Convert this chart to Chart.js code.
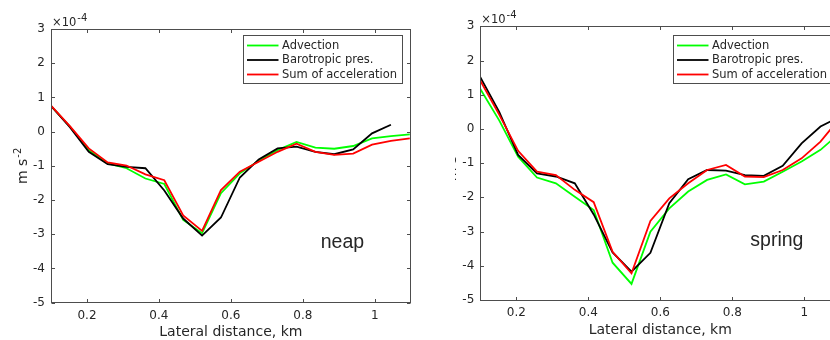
<!DOCTYPE html>
<html>
<head>
<meta charset="utf-8">
<script src="https://cdn.jsdelivr.net/npm/chart.js@4.4.1/dist/chart.umd.min.js"></script>
<style>
  html, body { margin: 0; padding: 0; background: #fff; width: 830px; height: 340px; overflow: hidden; }
  #left { position: absolute; left: 0; top: 0; width: 455px; height: 340px; background: #fff; z-index: 2; }
  #right { position: absolute; left: 420px; top: 0; width: 440px; height: 340px; z-index: 1; }
</style>
</head>
<body>
<div id="left"><canvas id="neapChart" width="455" height="340"></canvas></div>
<div id="right"><canvas id="springChart" width="440" height="340"></canvas></div>
<script>
// lateral distance (km) of the sampled stations
const distance = [0.1, 0.1525, 0.205, 0.2575, 0.31, 0.3625, 0.415, 0.4675, 0.52, 0.5725,
                  0.625, 0.6775, 0.73, 0.7825, 0.835, 0.8875, 0.94, 0.9925, 1.045, 1.0975];

// accelerations, units of 1e-4 m s^-2
const neapAdvection  = [0.75, 0.15, -0.54, -0.93, -1.07, -1.37, -1.53, -2.58, -2.97, -1.80,
                        -1.22, -0.85, -0.54, -0.30, -0.47, -0.50, -0.42, -0.20, -0.13, -0.08];
const neapBarotropic = [0.75, 0.13, -0.59, -0.95, -1.03, -1.07, -1.72, -2.54, -3.04, -2.51,
                        -1.34, -0.81, -0.49, -0.44, -0.59, -0.66, -0.52, -0.05, 0.20];
const neapSum        = [0.76, 0.16, -0.49, -0.90, -0.99, -1.25, -1.42, -2.45, -2.90, -1.71,
                        -1.17, -0.88, -0.59, -0.35, -0.59, -0.68, -0.64, -0.38, -0.27, -0.20];

const springAdvection  = [1.17, 0.25, -0.81, -1.42, -1.59, -1.98, -2.37, -3.91, -4.53, -3.00,
                          -2.32, -1.83, -1.49, -1.33, -1.62, -1.54, -1.25, -0.95, -0.61, -0.13];
const springBarotropic = [1.51, 0.50, -0.76, -1.30, -1.39, -1.59, -2.50, -3.61, -4.17, -3.62,
                          -2.17, -1.47, -1.20, -1.22, -1.35, -1.37, -1.08, -0.42, 0.07, 0.35];
const springSum        = [1.41, 0.42, -0.64, -1.25, -1.35, -1.78, -2.14, -3.59, -4.22, -2.69,
                          -2.03, -1.59, -1.20, -1.05, -1.39, -1.41, -1.20, -0.86, -0.37, 0.30];

const seriesLabels = ['Advection', 'Barotropic pres.', 'Sum of acceleration'];
const seriesColors = ['#00ff00', '#000000', '#ff0000'];
const xTickValues = [0.2, 0.4, 0.6, 0.8, 1.0];
const xTitle = 'Lateral distance, km';

const axisColor = '#4d4d4d';
const textColor = '#262626';

const matlabStyle = {
  id: 'matlabStyle',
  afterDatasetsDraw(chart, args, o) {
    const { ctx, chartArea: a, scales: { x, y } } = chart;
    ctx.save();

    // panel label, placed in data coordinates
    ctx.font = '19.5px "Liberation Sans"';
    ctx.fillStyle = textColor;
    ctx.textAlign = 'left';
    ctx.textBaseline = 'middle';
    ctx.fillText(o.panel, x.getPixelForValue(o.panelAt[0]), y.getPixelForValue(o.panelAt[1]));

    // axes box with inward ticks
    const L = Math.round(a.left) + 0.5, R = Math.floor(a.right) + 0.5;
    const T = Math.round(a.top) + 0.5, B = Math.floor(a.bottom) + 0.5;
    ctx.strokeStyle = axisColor;
    ctx.lineWidth = 1;
    ctx.strokeRect(L, T, R - L, B - T);
    ctx.beginPath();
    x.ticks.forEach(t => {
      const px = Math.round(x.getPixelForValue(t.value)) + 0.5;
      ctx.moveTo(px, B); ctx.lineTo(px, B - 3.5);
      ctx.moveTo(px, T); ctx.lineTo(px, T + 3.5);
    });
    y.ticks.forEach(t => {
      const py = Math.round(y.getPixelForValue(t.value)) + 0.5;
      ctx.moveTo(L, py); ctx.lineTo(L + 3.5, py);
      ctx.moveTo(R, py); ctx.lineTo(R - 3.5, py);
    });
    ctx.stroke();

    // legend box (top right, inside axes)
    ctx.font = '11.5px "DejaVu Sans"';
    const sets = chart.data.datasets;
    const tw = Math.max(...sets.map(d => ctx.measureText(d.label).width));
    const w = Math.round(39 + tw + 5), h = 48;
    const bx = Math.round(a.right - o.legendInset[0] - w), by = Math.round(a.top + o.legendInset[1]);
    ctx.fillStyle = '#fff';
    ctx.fillRect(bx, by, w, h);
    ctx.strokeStyle = axisColor;
    ctx.strokeRect(bx + 0.5, by + 0.5, w, h);
    sets.forEach((d, i) => {
      const ry = by + 10.5 + i * 14.5;
      ctx.strokeStyle = d.borderColor;
      ctx.lineWidth = 1.8;
      ctx.beginPath();
      ctx.moveTo(bx + 4, ry); ctx.lineTo(bx + 35.5, ry);
      ctx.stroke();
      ctx.fillStyle = textColor;
      ctx.textBaseline = 'middle';
      ctx.fillText(d.label, bx + 39, ry + 0.5);
    });
    ctx.restore();
  },
  afterDraw(chart, args, o) {
    const { ctx, chartArea: a } = chart;
    ctx.save();
    ctx.fillStyle = textColor;
    ctx.textBaseline = 'alphabetic';

    // exponent above the y axis
    ctx.font = '11.5px "DejaVu Sans"';
    ctx.textAlign = 'left';
    const ex = a.left + 1, ey = a.top - 3.5;
    ctx.fillText('\u00d710', ex, ey);
    const ew = ctx.measureText('\u00d710').width;
    ctx.font = '10px "DejaVu Sans"';
    ctx.fillText('-4', ex + ew + 1, ey - 5);

    // x axis title
    ctx.font = '14px "DejaVu Sans"';
    ctx.textAlign = 'center';
    ctx.textBaseline = 'middle';
    ctx.fillText(xTitle, (a.left + a.right) / 2, a.bottom + 30);

    // y axis title, rotated
    ctx.translate(a.left - 24.5, (a.top + a.bottom) / 2);
    ctx.rotate(-Math.PI / 2);
    ctx.textAlign = 'left';
    ctx.textBaseline = 'alphabetic';
    ctx.font = '14px "DejaVu Sans"';
    const w1 = ctx.measureText('m s').width;
    ctx.font = '10px "DejaVu Sans"';
    const w2 = ctx.measureText('-2').width;
    const sx = -(w1 + w2 + 1) / 2;
    ctx.font = '14px "DejaVu Sans"';
    ctx.fillText('m s', sx, 0);
    ctx.font = '10px "DejaVu Sans"';
    ctx.fillText('-2', sx + w1 + 1, -6);
    ctx.restore();
  }
};

function makeChart(canvasId, series, panel, box) {
  const datasets = series.map((vals, i) => ({
    label: seriesLabels[i],
    data: vals.map((v, k) => ({ x: distance[k], y: v })),
    borderColor: seriesColors[i],
    backgroundColor: seriesColors[i],
    borderWidth: 1.8,
    pointRadius: 0,
    tension: 0,
    fill: false,
    order: 2 - i,
  }));

  return new Chart(document.getElementById(canvasId), {
    type: 'line',
    data: { datasets },
    plugins: [matlabStyle],
    options: {
      responsive: false,
      animation: false,
      devicePixelRatio: 1,
      layout: { padding: { top: box.top, right: box.right, left: 0, bottom: 0 } },
      plugins: {
        legend: { display: false },
        tooltip: { enabled: false },
        matlabStyle: { panel, panelAt: [0.85, -3.25], legendInset: box.legendInset },
      },
      scales: {
        x: {
          type: 'linear',
          min: 0.1,
          max: 1.1,
          afterBuildTicks: s => { s.ticks = xTickValues.map(v => ({ value: v })); },
          afterFit: s => { s.height = box.xAxisHeight; },
          grid: { display: false, drawTicks: false },
          border: { display: false },
          ticks: {
            autoSkip: false,
            maxRotation: 0,
            padding: 6,
            color: textColor,
            font: { family: 'DejaVu Sans', size: 12 },
            callback: v => String(+Number(v).toFixed(1)),
          },
        },
        y: {
          min: -5,
          max: 3,
          afterFit: s => { s.width = box.yAxisWidth; },
          grid: { display: false, drawTicks: false },
          border: { display: false },
          ticks: {
            stepSize: 1,
            padding: 6,
            color: textColor,
            font: { family: 'DejaVu Sans', size: 12 },
            callback: v => String(v),
          },
        },
      },
    },
  });
}

makeChart('neapChart', [neapAdvection, neapBarotropic, neapSum], 'neap',
  { top: 29, right: 44.3, yAxisWidth: 51, xAxisHeight: 37.3, legendInset: [8.4, 6.3] });

makeChart('springChart', [springAdvection, springBarotropic, springSum], 'spring',
  { top: 26.3, right: 19.7, yAxisWidth: 60.3, xAxisHeight: 40, legendInset: [8.4, 8.4] });
</script>
</body>
</html>
